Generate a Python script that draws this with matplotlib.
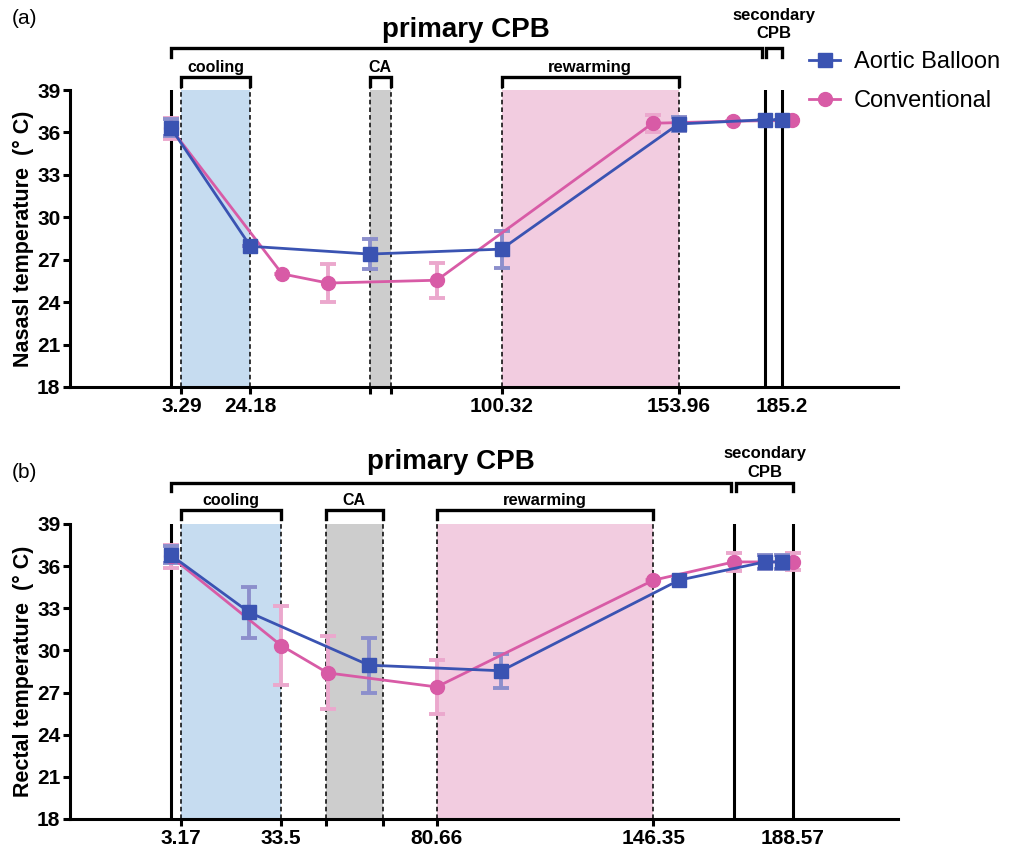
import matplotlib
matplotlib.use("Agg")
import matplotlib.pyplot as plt
from matplotlib.lines import Line2D

plt.rcParams['font.family'] = ['Liberation Sans', 'DejaVu Sans']

BLUE = '#3a53b2'
PINK = '#d85ba6'
BLUE_ERR = '#8c8fcc'
PINK_ERR = '#eba8cd'

# ---- panel (a): nasal temperature ----
a_bal_t = [0, 24.18, 60.4, 100.32, 153.96, 180.2, 185.2]
a_bal_v = [36.35, 27.95, 27.4, 27.75, 36.6, 36.9, 36.9]
a_bal_e = [0.6, 0.0, 1.05, 1.3, 0.5, 0.0, 0.0]
a_con_t = [0, 33.8, 47.7, 80.7, 146.1, 170.6, 188.4]
a_con_v = [36.3, 26.0, 25.35, 25.55, 36.65, 36.8, 36.85]
a_con_e = [0.75, 0.0, 1.35, 1.25, 0.6, 0.0, 0.0]
a_ticks = [3.29, 24.18, 60.4, 66.7, 100.32, 153.96, 185.2]
a_labels = ['3.29', '24.18', '', '', '100.32', '153.96', '185.2']
a_cooling = (3.29, 24.18)
a_ca = (60.4, 66.7)
a_rewarm = (100.32, 153.96)
a_solid = [0, 180.2, 185.2]
a_primary = (0, 179.3)
a_secondary = (180.6, 185.2)

# ---- panel (b): rectal temperature ----
b_bal_t = [0, 23.9, 60.1, 100.3, 154.1, 180.1, 185.4]
b_bal_v = [36.8, 32.7, 28.95, 28.55, 35.0, 36.3, 36.3]
b_bal_e = [0.6, 1.85, 1.95, 1.2, 0.0, 0.5, 0.5]
b_con_t = [0, 33.5, 47.6, 80.66, 146.35, 170.7, 188.57]
b_con_v = [36.7, 30.35, 28.4, 27.4, 35.0, 36.3, 36.3]
b_con_e = [0.8, 2.8, 2.6, 1.9, 0.0, 0.65, 0.6]
b_ticks = [3.17, 33.5, 47.0, 64.3, 80.66, 146.35, 188.57]
b_labels = ['3.17', '33.5', '', '', '80.66', '146.35', '188.57']
b_cooling = (3.17, 33.5)
b_ca = (47.0, 64.3)
b_rewarm = (80.66, 146.35)
b_solid = [0, 170.7, 188.57]
b_primary = (0, 170.0)
b_secondary = (171.5, 188.57)

fig = plt.figure(figsize=(10.13, 8.6), dpi=100)
ax1 = fig.add_axes([0.0691, 0.55, 0.8174, 0.3453])
ax2 = fig.add_axes([0.0691, 0.0477, 0.8174, 0.343])


def bracket(ax, x0, x1, y, drop, lw=2.4):
    ax.plot([x0, x0, x1, x1], [y - drop, y, y, y - drop], color='black',
            lw=lw, clip_on=False, solid_joinstyle='miter', zorder=5)


def panel(ax, bal, con, ticks, labels, cooling, ca, rewarm, solid, prim, sec,
          ylabel, sub_y, sub_text_y, prim_y, prim_text_y, sec_text_y):
    for (x0, x1), c in [(cooling, '#c6dcf0'), (ca, '#cdcdcd'), (rewarm, '#f2cce0')]:
        ax.axvspan(x0, x1, ymin=0, ymax=1, color=c, lw=0, zorder=0)
        for x in (x0, x1):
            ax.plot([x, x], [18, sub_y], color='black', lw=1.1, ls=(0, (3, 2)),
                    clip_on=False, zorder=1)
        bracket(ax, x0, x1, sub_y, 0.65)
    for x in solid:
        ax.plot([x, x], [18, 39], color='black', lw=2.2, zorder=2)

    ax.text(sum(cooling) / 2, sub_text_y, 'cooling', ha='center', va='baseline',
            fontsize=11.5, fontweight='bold')
    ax.text(sum(ca) / 2, sub_text_y, 'CA', ha='center', va='baseline',
            fontsize=11.5, fontweight='bold')
    ax.text(sum(rewarm) / 2, sub_text_y, 'rewarming', ha='center',
            va='baseline', fontsize=12, fontweight='bold')

    bracket(ax, prim[0], prim[1], prim_y, 0.6)
    bracket(ax, sec[0], sec[1], prim_y, 0.6)
    ax.text(sum(prim) / 2, prim_text_y, 'primary CPB', ha='center',
            va='center', fontsize=20, fontweight='bold')
    ax.text(sum(sec) / 2, sec_text_y[0], 'secondary', ha='center',
            va='center', fontsize=12, fontweight='bold')
    ax.text(sum(sec) / 2, sec_text_y[1], 'CPB', ha='center', va='center',
            fontsize=12, fontweight='bold')

    (bt, bv, be), (ct, cv, ce) = bal, con
    ax.errorbar(ct, cv, yerr=ce, fmt='none', ecolor=PINK_ERR, elinewidth=2.8,
                capsize=5.5, capthick=2.8, zorder=3)
    ax.errorbar(bt, bv, yerr=be, fmt='none', ecolor=BLUE_ERR, elinewidth=2.8,
                capsize=5.5, capthick=2.8, zorder=3)
    ax.plot(ct, cv, color=PINK, lw=2.0, marker='o', ms=10, zorder=4)
    ax.plot(bt, bv, color=BLUE, lw=2.0, marker='s', ms=10, zorder=4)

    ax.set_xlim(-30.5, 220.5)
    ax.set_ylim(18, 39)
    ax.set_yticks(range(18, 40, 3))
    ax.set_xticks(ticks)
    ax.set_xticklabels(labels)
    ax.xaxis.get_major_ticks()[-1].tick1line.set_visible(False)
    for s in ('top', 'right'):
        ax.spines[s].set_visible(False)
    for s in ('left', 'bottom'):
        ax.spines[s].set_linewidth(2.2)
    ax.tick_params(direction='out', length=5, width=2.2, labelsize=15, pad=2)
    for lab in ax.get_xticklabels() + ax.get_yticklabels():
        lab.set_fontweight('bold')
    ax.set_ylabel(ylabel, fontsize=15.5, fontweight='bold')
    ax.yaxis.set_label_coords(-0.044, 0.5)


panel(ax1, (a_bal_t, a_bal_v, a_bal_e), (a_con_t, a_con_v, a_con_e), a_ticks,
      a_labels, a_cooling, a_ca, a_rewarm, a_solid, a_primary, a_secondary,
      'Nasasl temperature  (° C)', 39.92, 40.3, 41.97, 43.25, (44.3, 43.0))
panel(ax2, (b_bal_t, b_bal_v, b_bal_e), (b_con_t, b_con_v, b_con_e), b_ticks,
      b_labels, b_cooling, b_ca, b_rewarm, b_solid, b_primary, b_secondary,
      'Rectal temperature  (° C)', 40.0, 40.35, 41.94, 43.4, (44.05, 42.65))

fig.text(0.012, 1 - 18 / 860, '(a)', fontsize=15, va='center')
fig.text(0.012, 1 - 472 / 860, '(b)', fontsize=15, va='center')

handles = [Line2D([], [], color=BLUE, lw=2.0, marker='s', ms=10),
           Line2D([], [], color=PINK, lw=2.0, marker='o', ms=10)]
fig.legend(handles, ['Aortic Balloon', 'Conventional'], loc='upper left',
           bbox_to_anchor=(788 / 1013, 1 - 30 / 860), frameon=False,
           fontsize=17, handlelength=1.3, handletextpad=0.6, labelspacing=0.7)

fig.savefig('out.png', dpi=100)
